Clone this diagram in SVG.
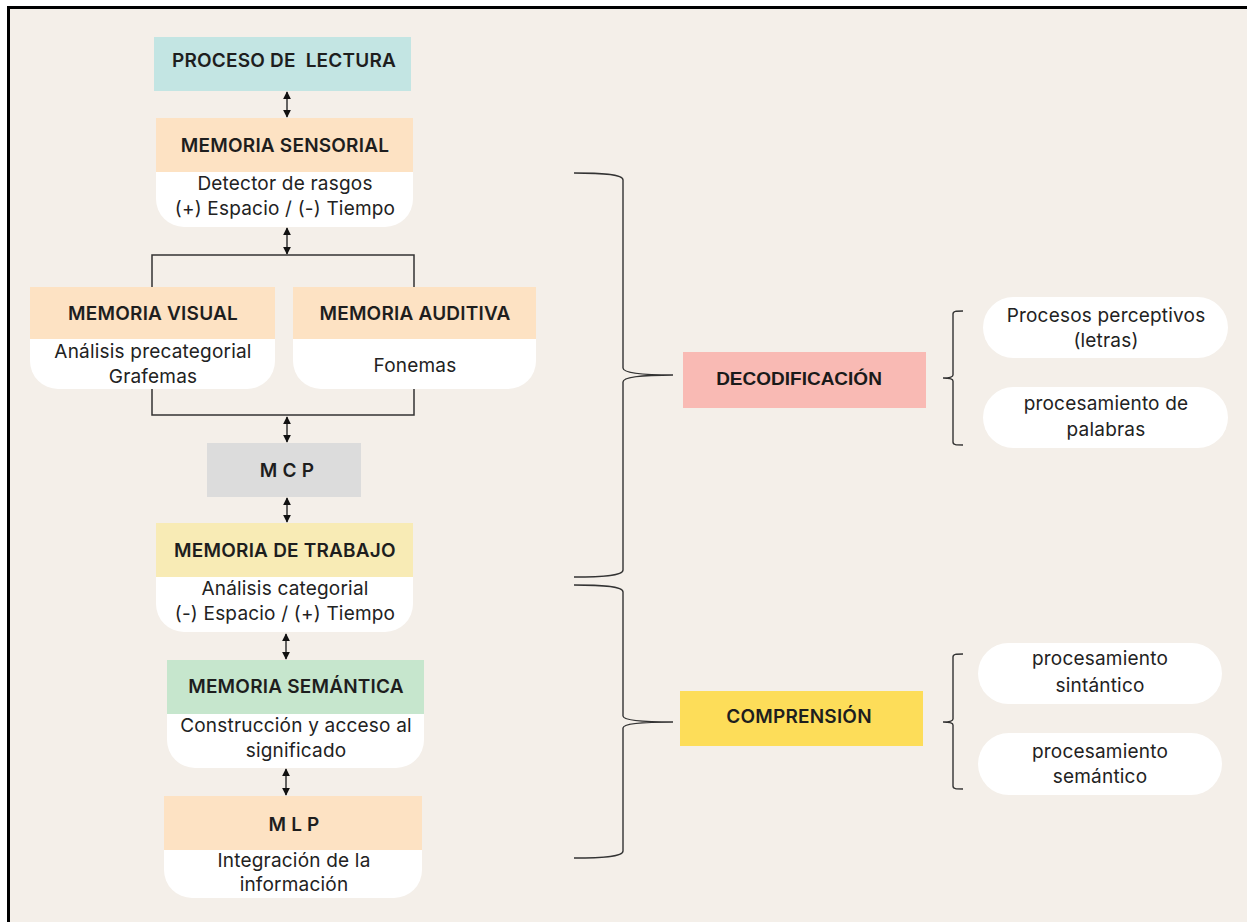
<svg xmlns="http://www.w3.org/2000/svg" width="1247" height="922" viewBox="0 0 1247 922">
<defs>
<style>
.hd{font-family:Inter,"Liberation Sans",sans-serif;font-weight:600;font-size:19px;letter-spacing:0.2px;fill:#1e1e1e;text-anchor:middle}
.bd{font-family:Inter,"Liberation Sans",sans-serif;font-size:19px;letter-spacing:0.2px;fill:#222;text-anchor:middle}
.ar{font-family:"Liberation Sans",Arial,sans-serif;font-weight:bold;font-size:19px;fill:#1a1a1a;text-anchor:middle}
.ln{fill:none;stroke:#333;stroke-width:1.5}
.br{fill:none;stroke:#333;stroke-width:1.4}
.wh{fill:#ffffff}
</style>
<marker id="ah" viewBox="0 0 10 10" refX="9" refY="5" markerWidth="8" markerHeight="8" orient="auto-start-reverse" markerUnits="userSpaceOnUse">
<path d="M0,0 L10,5 L0,10 Z" fill="#111"/>
</marker>
</defs>
<rect x="0" y="0" width="1247" height="922" fill="#ffffff"/>
<rect x="8.5" y="7.5" width="1260" height="940" fill="#f4efe9" stroke="#000" stroke-width="3"/>

<g id="connectors">
<line class="ln" x1="287" y1="92" x2="287" y2="117" marker-start="url(#ah)" marker-end="url(#ah)"/>
<line class="ln" x1="287" y1="228" x2="287" y2="254" marker-start="url(#ah)" marker-end="url(#ah)"/>
<path class="ln" d="M152,287 V255 H414 V287"/>
<path class="ln" d="M152,389 V415 H414 V389"/>
<line class="ln" x1="287" y1="417" x2="287" y2="442" marker-start="url(#ah)" marker-end="url(#ah)"/>
<line class="ln" x1="287" y1="498" x2="287" y2="522" marker-start="url(#ah)" marker-end="url(#ah)"/>
<line class="ln" x1="286" y1="634" x2="286" y2="659" marker-start="url(#ah)" marker-end="url(#ah)"/>
<line class="ln" x1="286" y1="769" x2="286" y2="795" marker-start="url(#ah)" marker-end="url(#ah)"/>
<path class="br" d="M574,173 C600,173 623,174 623,180 L623,368 C623,374 650,375 673,375 C650,375 623,376 623,382 L623,570 C623,576 600,577 574,577"/>
<path class="br" d="M574,585 C600,585 623,586 623,592 L623,716 C623,721 650,722 673,722 C650,722 623,723 623,728 L623,851 C623,857 600,858 574,858"/>
<path class="br" d="M963,311 C956,311 953,311 953,314 L953,375 C953,377 948,378 943,378 C948,378 953,379 953,381 L953,442 C953,445 956,445 963,445"/>
<path class="br" d="M963,654 C956,654 953,654 953,657 L953,719 C953,721 948,722 943,722 C948,722 953,723 953,725 L953,786 C953,789 956,789 963,789"/>
</g>

<g id="proceso-lectura">
<rect x="154" y="37" width="257" height="54" fill="#c3e5e3"/>
<text class="hd" x="284" y="67" xml:space="preserve">PROCESO DE  LECTURA</text>
</g>

<g id="memoria-sensorial">
<rect x="156" y="118" width="257" height="54" fill="#fde2c3"/>
<path class="wh" d="M156,172 H413 V199 A28,28 0 0 1 385,227 H184 A28,28 0 0 1 156,199 Z"/>
<text class="hd" x="285" y="152">MEMORIA SENSORIAL</text>
<text class="bd" x="285" y="190">Detector de rasgos</text>
<text class="bd" x="285" y="215">(+) Espacio / (-) Tiempo</text>
</g>

<g id="memoria-visual">
<rect x="30" y="287" width="245" height="52" fill="#fde2c3"/>
<path class="wh" d="M30,339 H275 V361 A28,28 0 0 1 247,389 H58 A28,28 0 0 1 30,361 Z"/>
<text class="hd" x="153" y="320">MEMORIA VISUAL</text>
<text class="bd" x="153" y="358">Análisis precategorial</text>
<text class="bd" x="153" y="383">Grafemas</text>
</g>

<g id="memoria-auditiva">
<rect x="293" y="287" width="243" height="52" fill="#fde2c3"/>
<path class="wh" d="M293,339 H536 V361 A28,28 0 0 1 508,389 H321 A28,28 0 0 1 293,361 Z"/>
<text class="hd" x="415" y="320">MEMORIA AUDITIVA</text>
<text class="bd" x="415" y="372">Fonemas</text>
</g>

<g id="mcp">
<rect x="207" y="443" width="154" height="54" fill="#dcdcdc"/>
<text class="hd" x="287" y="477" xml:space="preserve">M C P</text>
</g>

<g id="memoria-trabajo">
<rect x="156" y="523" width="257" height="54" fill="#f8ebb5"/>
<path class="wh" d="M156,577 H413 V604 A28,28 0 0 1 385,632 H184 A28,28 0 0 1 156,604 Z"/>
<text class="hd" x="285" y="557">MEMORIA DE TRABAJO</text>
<text class="bd" x="285" y="595">Análisis categorial</text>
<text class="bd" x="285" y="620">(-) Espacio / (+) Tiempo</text>
</g>

<g id="memoria-semantica">
<rect x="167" y="660" width="257" height="54" fill="#c6e6cd"/>
<path class="wh" d="M167,714 H424 V740 A28,28 0 0 1 396,768 H195 A28,28 0 0 1 167,740 Z"/>
<text class="hd" x="296" y="693">MEMORIA SEMÁNTICA</text>
<text class="bd" x="296" y="732">Construcción y acceso al</text>
<text class="bd" x="296" y="757">significado</text>
</g>

<g id="mlp">
<rect x="164" y="796" width="258" height="54" fill="#fde2c3"/>
<path class="wh" d="M164,850 H422 V870 A28,28 0 0 1 394,898 H192 A28,28 0 0 1 164,870 Z"/>
<text class="hd" x="294" y="831" xml:space="preserve">M L P</text>
<text class="bd" x="294" y="867">Integración de la</text>
<text class="bd" x="294" y="891">información</text>
</g>

<g id="decodificacion">
<rect x="683" y="352" width="243" height="56" fill="#f9bab4"/>
<text class="ar" x="799" y="385">DECODIFICACIÓN</text>
</g>

<g id="comprension">
<rect x="680" y="691" width="243" height="55" fill="#fddd59"/>
<text class="hd" x="799" y="723">COMPRENSIÓN</text>
</g>

<g id="procesos-perceptivos">
<rect class="wh" x="983" y="297" width="245" height="61" rx="30.5"/>
<text class="bd" x="1106" y="322">Procesos perceptivos</text>
<text class="bd" x="1106" y="347">(letras)</text>
</g>

<g id="procesamiento-palabras">
<rect class="wh" x="983" y="387" width="245" height="61" rx="30.5"/>
<text class="bd" x="1106" y="410">procesamiento de</text>
<text class="bd" x="1106" y="436">palabras</text>
</g>

<g id="procesamiento-sintactico">
<rect class="wh" x="978" y="643" width="244" height="61" rx="30.5"/>
<text class="bd" x="1100" y="665">procesamiento</text>
<text class="bd" x="1100" y="692">sintántico</text>
</g>

<g id="procesamiento-semantico">
<rect class="wh" x="978" y="733" width="244" height="62" rx="31"/>
<text class="bd" x="1100" y="758">procesamiento</text>
<text class="bd" x="1100" y="783">semántico</text>
</g>
</svg>
